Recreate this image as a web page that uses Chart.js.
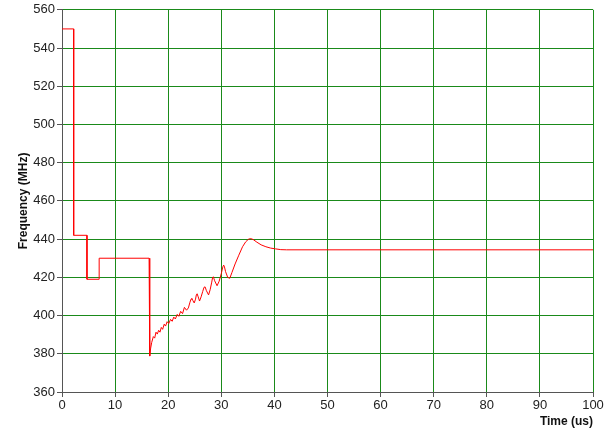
<!DOCTYPE html>
<html>
<head>
<meta charset="utf-8">
<script src="https://cdn.jsdelivr.net/npm/chart.js@4/dist/chart.umd.min.js"></script>
<style>
  html, body { margin: 0; padding: 0; background: #ffffff; }
  #wrap { width: 616px; height: 432px; position: relative; }
</style>
</head>
<body>
<div id="wrap"><canvas id="chart"></canvas></div>
<script>
// PLL frequency response over time
const timeUs = [
  0, 2.2, 2.2, 4.7, 4.7, 7.0, 7.0, 16.4, 16.5, 16.55,
  16.7, 16.9, 17.2, 17.45, 17.7, 17.95, 18.2, 18.45, 18.7, 18.95,
  19.25, 19.5, 19.8, 20.1, 20.45, 20.75, 21.05, 21.35, 21.7, 22.0,
  22.35, 22.7, 23.05, 23.45, 23.8, 24.1, 24.3, 24.45, 24.65, 24.9,
  25.15, 25.3, 25.45, 25.65, 25.9, 26.2, 26.5, 26.75, 26.95, 27.2,
  27.6, 27.9, 28.2, 28.35, 28.5, 28.75, 29.2, 29.6, 30.0, 30.3,
  30.45, 30.6, 30.8, 31.2, 31.6, 32.0, 32.6, 33.3, 34.0, 34.6,
  35.1, 35.5, 36.0, 36.7, 37.5, 38.4, 39.3, 40.2, 41.2, 42.3,
  100
];
const freqMHz = [
  550, 550, 442, 442, 419, 419, 430, 430, 379, 378.8,
  383.0, 386.0, 389.0, 388.2, 391.3, 390.3, 392.3, 391.3, 393.8, 392.8,
  395.5, 394.5, 396.8, 395.8, 398.0, 397.0, 399.2, 398.2, 400.6, 399.6,
  402.2, 401.0, 404.3, 402.8, 404.0, 407.0, 408.6, 409.0, 407.8, 406.6,
  408.6, 410.8, 411.4, 409.8, 407.6, 409.8, 412.6, 414.8, 415.0, 413.0,
  410.8, 413.5, 417.5, 419.8, 420.3, 418.2, 415.6, 418.0, 422.0, 425.6,
  426.4, 425.4, 423.0, 420.0, 419.5, 422.5, 427.0, 431.6, 436.0, 438.6,
  439.9, 440.3, 439.8, 438.4, 437.0, 436.0, 435.3, 434.9, 434.5, 434.4,
  434.4
];
const xTickValues = [0, 10, 20, 30, 40, 50, 60, 70, 80, 90, 100];
const yTickValues = [360, 380, 400, 420, 440, 460, 480, 500, 520, 540, 560];

const points = timeUs.map((t, i) => ({ x: t, y: freqMHz[i] }));

const tickFont = { family: "'Liberation Sans', Arial, sans-serif", size: 13 };
const titleFont = { family: "'Liberation Sans', Arial, sans-serif", size: 12, weight: 'bold' };
const gridGreen = '#1a8a1a';
const axisGray = '#555555';

new Chart(document.getElementById('chart'), {
  type: 'line',
  data: {
    datasets: [{
      data: points,
      borderColor: '#ff0000',
      borderWidth: 1,
      pointRadius: 0,
      tension: 0,
      fill: false
    }]
  },
  options: {
    responsive: true,
    maintainAspectRatio: false,
    animation: false,
    events: [],
    layout: { padding: { top: 9, right: 23, left: 0, bottom: 0 } },
    plugins: { legend: { display: false }, tooltip: { enabled: false } },
    scales: {
      x: {
        type: 'linear',
        min: 0,
        max: 100,
        afterBuildTicks: s => { s.ticks = xTickValues.map(v => ({ value: v })); },
        afterFit: s => { s.height = 40; },
        grid: { color: gridGreen, lineWidth: 1, tickLength: 5, tickColor: axisGray },
        border: { color: axisGray, width: 1 },
        ticks: { font: tickFont, color: '#222222', padding: 1, maxRotation: 0 },
        title: {
          display: true, text: 'Time (us)', align: 'end',
          font: titleFont, color: '#111111', padding: { top: 0, bottom: 3 }
        }
      },
      y: {
        min: 360,
        max: 560,
        afterBuildTicks: s => { s.ticks = yTickValues.map(v => ({ value: v })); },
        afterFit: s => { s.width = 62; },
        grid: { color: gridGreen, lineWidth: 1, tickLength: 5, tickColor: axisGray },
        border: { color: axisGray, width: 1 },
        ticks: { font: tickFont, color: '#222222', padding: 2 },
        title: {
          display: true, text: 'Frequency (MHz)',
          font: titleFont, color: '#111111', padding: { top: 16, bottom: 0 }
        }
      }
    }
  }
});
</script>
</body>
</html>
